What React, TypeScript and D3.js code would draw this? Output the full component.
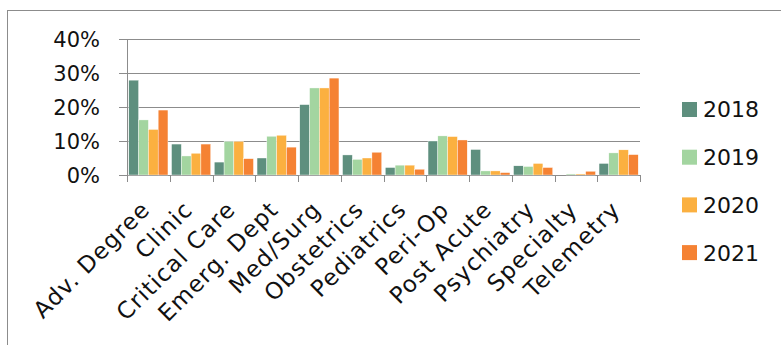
import React from "react";
import * as d3 from "d3";

const categories = ["Adv. Degree", "Clinic", "Critical Care", "Emerg. Dept", "Med/Surg", "Obstetrics", "Pediatrics", "Peri-Op", "Post Acute", "Psychiatry", "Specialty", "Telemetry"];
const seriesNames = ["2018", "2019", "2020", "2021"];
const v2018 = [27.9, 9.1, 3.8, 5.0, 20.7, 5.9, 2.2, 10.0, 7.5, 2.7, 0, 3.4];
const v2019 = [16.2, 5.6, 9.9, 11.4, 25.6, 4.6, 2.9, 11.5, 1.2, 2.5, 0.3, 6.5];
const v2020 = [13.4, 6.4, 9.9, 11.7, 25.6, 5.0, 2.9, 11.3, 1.2, 3.4, 0.3, 7.4];
const v2021 = [19.1, 9.1, 4.8, 8.2, 28.5, 6.7, 1.7, 10.3, 0.7, 2.2, 1.1, 6.0];
const yTicks = [0, 10, 20, 30, 40];
const colors = ["#5E8F7E", "#A3D5A0", "#FBB040", "#F58233"];

export default function App() {
  const W = 781, H = 345;
  const left = 127, right = 640, top = 39, bottom = 175;
  const series = [v2018, v2019, v2020, v2021];
  const x = d3.scaleBand<string>().domain(categories).range([left, right]).paddingInner(0).paddingOuter(0);
  const x1 = d3.scaleBand<string>().domain(seriesNames).range([0, x.bandwidth()]).paddingInner(0).paddingOuter(0.183);
  const y = d3.scaleLinear().domain([0, 40]).range([bottom, top]);
  const font = "'DejaVu Sans', sans-serif";
  const grid = "#8c8c8c";
  return (
    <svg width={W} height={H} style={{ position: "absolute", left: 0, top: 0, background: "#fff" }} fontFamily={font}>
      <rect x={7.5} y={10.5} width={900} height={500} fill="none" stroke="#8c8c8c" strokeWidth={1} />
      {yTicks.map((t) => (
        <g key={t}>
          <line x1={left - 8} x2={right} y1={Math.round(y(t)) + 0.5} y2={Math.round(y(t)) + 0.5} stroke={grid} strokeWidth={1} />
          <text x={100} y={y(t)} dy="0.36em" textAnchor="end" fontSize={21} fill="#111">{t}%</text>
        </g>
      ))}
      <line x1={left + 0.5} x2={left + 0.5} y1={top} y2={bottom + 7} stroke={grid} />
      {categories.map((c, i) => (
        <line key={"t" + i} x1={Math.round(x(c)! + x.bandwidth()) + 0.5} x2={Math.round(x(c)! + x.bandwidth()) + 0.5} y1={bottom} y2={bottom + 7} stroke={grid} />
      ))}
      {categories.map((c, i) => (
        <g key={c}>
          {series.map((s, k) => (
            <rect key={k} x={x(c)! + x1(seriesNames[k])!} width={x1.bandwidth()} y={y(s[i])} height={bottom - y(s[i])} fill={colors[k]} stroke="#fff" strokeWidth={0.4} />
          ))}
        </g>
      ))}
      {categories.map((c) => {
        const cx = x(c)! + x.bandwidth() / 2 + 3;
        const cy = 211;
        return (
          <text key={"l" + c} transform={`translate(${cx},${cy}) rotate(-45)`} textAnchor="end" fontSize={23} letterSpacing={1.2} fill="#111">{c}</text>
        );
      })}
      {seriesNames.map((n, k) => (
        <g key={n} transform={`translate(682,${102 + k * 47.7})`}>
          <rect x={0} y={0} width={15} height={15} fill={colors[k]} />
          <text x={21} y={7.5} dy="0.36em" fontSize={22} fill="#111">{n}</text>
        </g>
      ))}
    </svg>
  );
}
